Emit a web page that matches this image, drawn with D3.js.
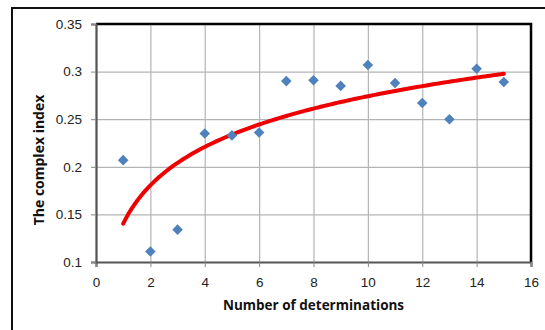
<!DOCTYPE html>
<html>
<head>
<meta charset="utf-8">
<script src="https://cdn.jsdelivr.net/npm/d3@7"></script>
<style>
    body { margin: 0; background: #fff; }
    svg { display: block; font-family: "Open Sans", sans-serif; }
    .axis text { font-size: 13.5px; fill: #222; }
    .grid line { stroke: #b4b4b4; stroke-width: 1.2; }
    .grid path { display: none; }
</style>
</head>
<body>
<script>
// determinations and measured complex index
var determinations = [1, 2, 3, 4, 5, 6, 7, 8, 9, 10, 11, 12, 13, 14, 15];
var complexIndex = [0.207, 0.111, 0.134, 0.235, 0.233, 0.236, 0.290, 0.291, 0.285, 0.307, 0.288, 0.267, 0.250, 0.303, 0.289];
var xTicks = [0, 2, 4, 6, 8, 10, 12, 14, 16];
var yTicks = [0.1, 0.15, 0.2, 0.25, 0.3, 0.35];

var w = 545;
var h = 330;
var margin = { left: 96, top: 24, right: 14, bottom: 68 };
var pw = w - margin.left - margin.right;
var ph = h - margin.top - margin.bottom;

var points = determinations.map(function (d, i) {
    return { x: d, y: complexIndex[i] };
});

// logarithmic trendline y = a*ln(x) + b (least squares, like Excel)
var lx = points.map(function (d) { return Math.log(d.x); });
var mx = d3.mean(lx);
var my = d3.mean(complexIndex);
var sxy = d3.sum(lx, function (v, i) { return (v - mx) * (complexIndex[i] - my); });
var sxx = d3.sum(lx, function (v) { return (v - mx) * (v - mx); });
var slope = sxy / sxx;
var intercept = my - slope * mx;
var trend = d3.range(1, 15.01, 0.1).map(function (x) {
    return { x: x, y: slope * Math.log(x) + intercept };
});

var svg = d3.select("body")
    .append("svg")
    .attr("width", w)
    .attr("height", h);

// outer chart frame
svg.append("rect")
    .attr("x", 12)
    .attr("y", 8)
    .attr("width", 600)
    .attr("height", 400)
    .attr("fill", "none")
    .attr("stroke", "#111")
    .attr("stroke-width", 2);

var g = svg.append("g")
    .attr("transform", "translate(" + margin.left + "," + margin.top + ")");

var xScale = d3.scaleLinear().domain([0, 16]).range([0, pw]);
var yScale = d3.scaleLinear().domain([0.1, 0.35]).range([ph, 0]);

// gridlines
g.append("g")
    .attr("class", "grid")
    .attr("transform", "translate(0," + ph + ")")
    .call(d3.axisBottom(xScale).tickValues(xTicks).tickSize(-ph).tickFormat(""));
g.append("g")
    .attr("class", "grid")
    .call(d3.axisLeft(yScale).tickValues(yTicks).tickSize(-pw).tickFormat(""));

// plot border (top and right are black)
g.append("path")
    .attr("d", "M0,0H" + pw + "V" + ph)
    .attr("fill", "none")
    .attr("stroke", "#000")
    .attr("stroke-width", 2.5);

var xAxis = g.append("g")
    .attr("class", "axis")
    .attr("transform", "translate(0," + ph + ")")
    .call(d3.axisBottom(xScale).tickValues(xTicks).tickSize(5).tickPadding(10).tickFormat(d3.format("d")));

var yAxis = g.append("g")
    .attr("class", "axis")
    .call(d3.axisLeft(yScale).tickValues(yTicks).tickSize(5).tickPadding(9).tickFormat(function (d) { return +d.toFixed(2); }));

[xAxis, yAxis].forEach(function (a) {
    a.select(".domain").attr("stroke", "#555").attr("stroke-width", 2.2);
    a.selectAll(".tick line").attr("stroke", "#888").attr("stroke-width", 1);
});

// trendline
g.append("path")
    .datum(trend)
    .attr("fill", "none")
    .attr("stroke", "#ee0000")
    .attr("stroke-width", 4)
    .attr("stroke-linecap", "round")
    .attr("d", d3.line()
        .x(function (d) { return xScale(d.x); })
        .y(function (d) { return yScale(d.y); })
    );

// diamond markers
g.selectAll(".dot")
    .data(points)
    .enter()
    .append("path")
    .attr("class", "dot")
    .attr("d", d3.symbol().type(d3.symbolSquare).size(56))
    .attr("transform", function (d) {
        return "translate(" + xScale(d.x) + "," + yScale(d.y) + ") rotate(45)";
    })
    .attr("fill", "#4f81bd");

// axis titles
svg.append("text")
    .attr("x", margin.left + pw / 2)
    .attr("y", 310)
    .attr("text-anchor", "middle")
    .attr("font-size", 13.5)
    .attr("font-weight", "bold")
    .attr("fill", "#111")
    .text("Number of determinations");

svg.append("text")
    .attr("transform", "translate(44,160) rotate(-90)")
    .attr("text-anchor", "middle")
    .attr("font-size", 14)
    .attr("font-weight", "bold")
    .attr("fill", "#111")
    .text("The complex index");
</script>
</body>
</html>
